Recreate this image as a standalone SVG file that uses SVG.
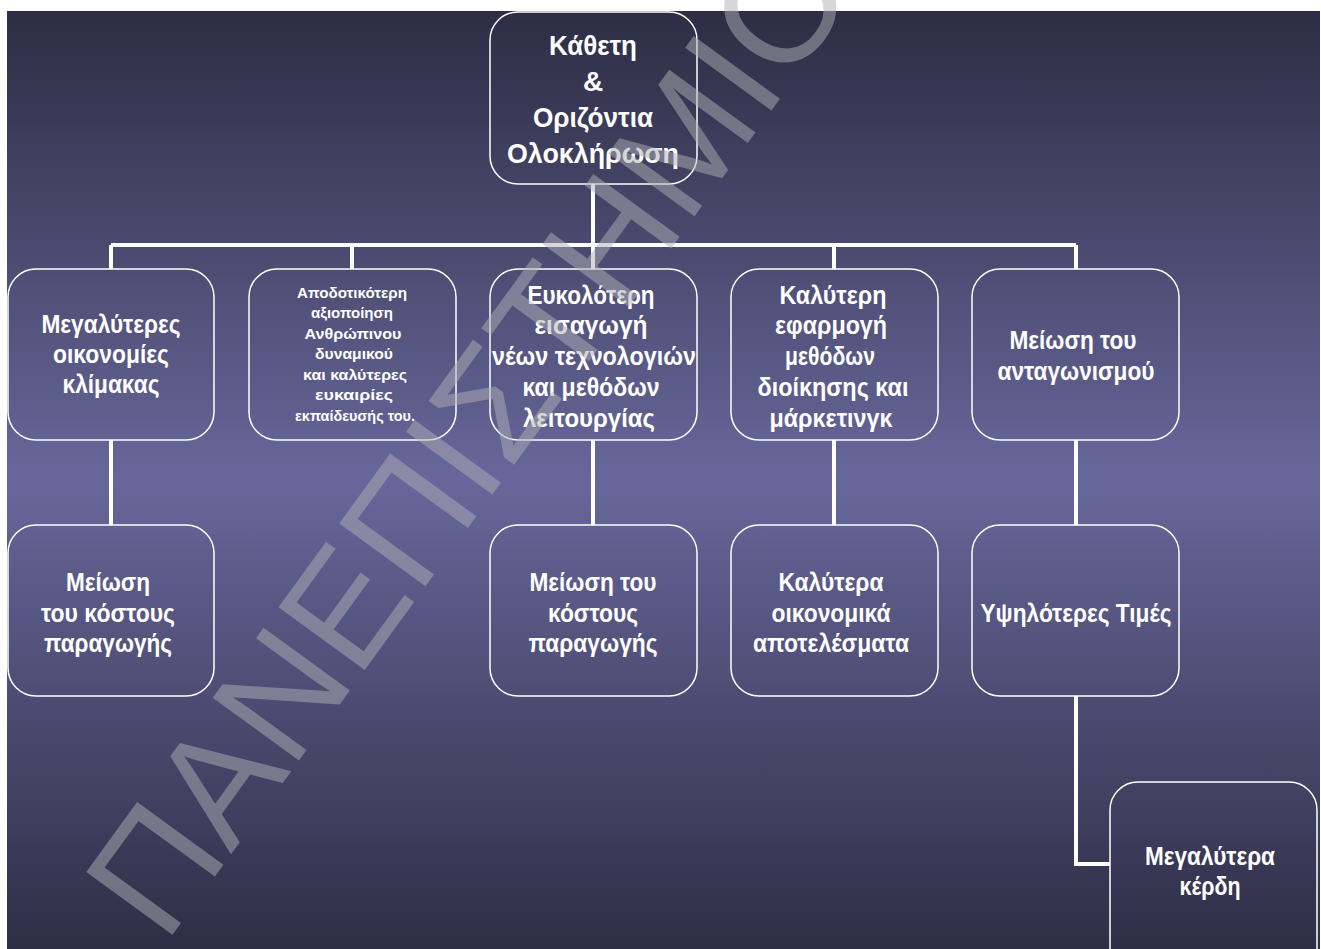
<svg xmlns="http://www.w3.org/2000/svg" width="1321" height="949" viewBox="0 0 1321 949">
<defs>
<linearGradient id="bg" x1="0" y1="0" x2="0" y2="1">
<stop offset="0" stop-color="#2d2d44"/>
<stop offset="0.5" stop-color="#67679b"/>
<stop offset="1" stop-color="#2e2e46"/>
</linearGradient>
<style>
.box{fill:none;stroke:#ffffff;stroke-width:1.5}
.t{font-family:"Liberation Sans",Arial,sans-serif;font-weight:bold;font-size:25px;fill:#ffffff;text-anchor:middle}
.big{font-size:28px}
.sm{font-size:14px}
.con{fill:none;stroke:#ffffff;stroke-width:4}
.wm{font-family:"Liberation Sans",Arial,sans-serif;font-size:155px;fill:#b0b0b6;fill-opacity:0.5}
</style>
</defs>
<rect x="0" y="0" width="1321" height="949" fill="#ffffff"/>
<rect x="7" y="11" width="1313" height="938" fill="url(#bg)"/>
<g id="connectors">
<path class="con" d="M593 184V245M111 245H1076M111 245V269M352 245V269M593 245V269M834 245V269M1076 245V269"/>
<path class="con" d="M111 440V525M593 440V525M834 440V525M1076 440V525"/>
<path class="con" d="M1076 696V864H1110"/>
</g>
<g id="n0">
<rect class="box" x="490" y="12" width="207" height="172" rx="28"/>
<text class="t big" x="593" y="55" textLength="88" lengthAdjust="spacingAndGlyphs">Κάθετη</text>
<text class="t big" x="593" y="91">&amp;</text>
<text class="t big" x="593" y="127" textLength="120" lengthAdjust="spacingAndGlyphs">Οριζόντια</text>
<text class="t big" x="593" y="163" textLength="172" lengthAdjust="spacingAndGlyphs">Ολοκλήρωση</text>
</g>
<g id="n1">
<rect class="box" x="8" y="269" width="206" height="171" rx="28"/>
<text class="t" x="111" y="333" textLength="139" lengthAdjust="spacingAndGlyphs">Μεγαλύτερες</text>
<text class="t" x="111" y="363" textLength="116" lengthAdjust="spacingAndGlyphs">οικονομίες</text>
<text class="t" x="111" y="393" textLength="97" lengthAdjust="spacingAndGlyphs">κλίμακας</text>
</g>
<g id="n2">
<rect class="box" x="249" y="269" width="207" height="171" rx="28"/>
<text class="t sm" x="352" y="298" textLength="110" lengthAdjust="spacingAndGlyphs">Αποδοτικότερη</text>
<text class="t sm" x="352" y="318" textLength="82" lengthAdjust="spacingAndGlyphs">αξιοποίηση</text>
<text class="t sm" x="353" y="339" textLength="97" lengthAdjust="spacingAndGlyphs">Ανθρώπινου</text>
<text class="t sm" x="354" y="359" textLength="78" lengthAdjust="spacingAndGlyphs">δυναμικού</text>
<text class="t sm" x="355" y="380" textLength="104" lengthAdjust="spacingAndGlyphs">και καλύτερες</text>
<text class="t sm" x="354" y="400" textLength="78" lengthAdjust="spacingAndGlyphs">ευκαιρίες</text>
<text class="t sm" x="355" y="421" textLength="120" lengthAdjust="spacingAndGlyphs">εκπαίδευσής του.</text>
</g>
<g id="n3">
<rect class="box" x="490" y="269" width="207" height="171" rx="28"/>
<text class="t" x="591" y="304" textLength="127" lengthAdjust="spacingAndGlyphs">Ευκολότερη</text>
<text class="t" x="591" y="334" textLength="113" lengthAdjust="spacingAndGlyphs">εισαγωγή</text>
<text class="t" x="594" y="365" textLength="204" lengthAdjust="spacingAndGlyphs">νέων τεχνολογιών</text>
<text class="t" x="591" y="396" textLength="137" lengthAdjust="spacingAndGlyphs">και μεθόδων</text>
<text class="t" x="589" y="427" textLength="132" lengthAdjust="spacingAndGlyphs">λειτουργίας</text>
</g>
<g id="n4">
<rect class="box" x="731" y="269" width="207" height="171" rx="28"/>
<text class="t" x="833" y="304" textLength="107" lengthAdjust="spacingAndGlyphs">Καλύτερη</text>
<text class="t" x="831" y="334" textLength="112" lengthAdjust="spacingAndGlyphs">εφαρμογή</text>
<text class="t" x="830" y="365" textLength="90" lengthAdjust="spacingAndGlyphs">μεθόδων</text>
<text class="t" x="833" y="396" textLength="151" lengthAdjust="spacingAndGlyphs">διοίκησης και</text>
<text class="t" x="831" y="427" textLength="123" lengthAdjust="spacingAndGlyphs">μάρκετινγκ</text>
</g>
<g id="n5">
<rect class="box" x="972" y="269" width="207" height="171" rx="28"/>
<text class="t" x="1073" y="349" textLength="127" lengthAdjust="spacingAndGlyphs">Μείωση του</text>
<text class="t" x="1076" y="380" textLength="157" lengthAdjust="spacingAndGlyphs">ανταγωνισμού</text>
</g>
<g id="n6">
<rect class="box" x="8" y="525" width="206" height="171" rx="28"/>
<text class="t" x="108" y="591" textLength="84" lengthAdjust="spacingAndGlyphs">Μείωση</text>
<text class="t" x="108" y="622" textLength="134" lengthAdjust="spacingAndGlyphs">του κόστους</text>
<text class="t" x="108" y="652" textLength="128" lengthAdjust="spacingAndGlyphs">παραγωγής</text>
</g>
<g id="n7">
<rect class="box" x="490" y="525" width="207" height="171" rx="28"/>
<text class="t" x="593" y="591" textLength="127" lengthAdjust="spacingAndGlyphs">Μείωση του</text>
<text class="t" x="593" y="622" textLength="90" lengthAdjust="spacingAndGlyphs">κόστους</text>
<text class="t" x="593" y="652" textLength="129" lengthAdjust="spacingAndGlyphs">παραγωγής</text>
</g>
<g id="n8">
<rect class="box" x="731" y="525" width="207" height="171" rx="28"/>
<text class="t" x="831" y="591" textLength="105" lengthAdjust="spacingAndGlyphs">Καλύτερα</text>
<text class="t" x="831" y="622" textLength="119" lengthAdjust="spacingAndGlyphs">οικονομικά</text>
<text class="t" x="831" y="652" textLength="156" lengthAdjust="spacingAndGlyphs">αποτελέσματα</text>
</g>
<g id="n9">
<rect class="box" x="972" y="525" width="207" height="171" rx="28"/>
<text class="t" x="1076" y="622" textLength="191" lengthAdjust="spacingAndGlyphs">Υψηλότερες Τιμές</text>
</g>
<g id="n10">
<rect class="box" x="1110" y="782" width="207" height="200" rx="28"/>
<text class="t" x="1210" y="865" textLength="130" lengthAdjust="spacingAndGlyphs">Μεγαλύτερα</text>
<text class="t" x="1210" y="895" textLength="61" lengthAdjust="spacingAndGlyphs">κέρδη</text>
</g>
<text class="wm" x="165" y="945" transform="rotate(-54 165 945)">ΠΑΝΕΠΙΣΤΗΜΙΟ</text>
</svg>
